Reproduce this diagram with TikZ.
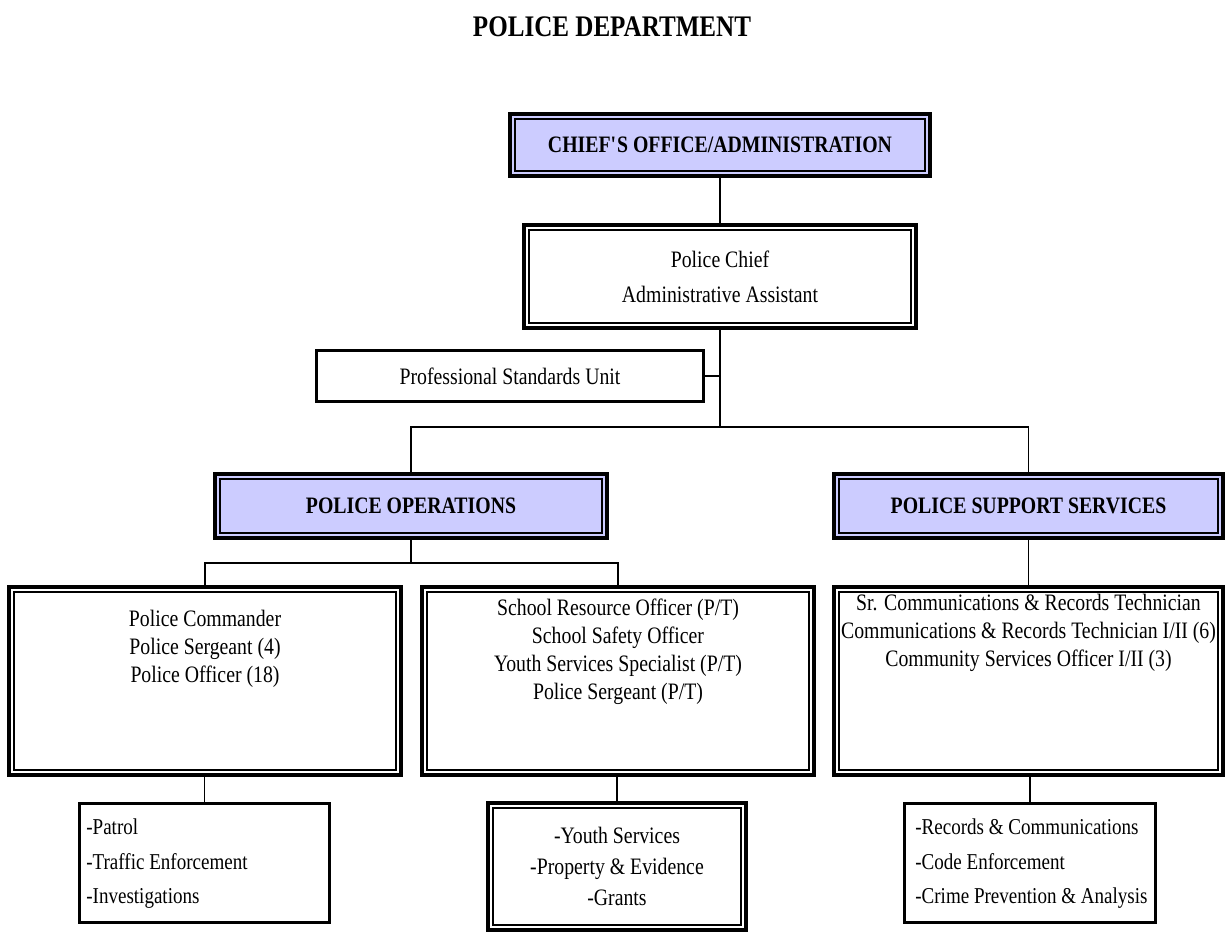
\documentclass[tikz,border=0pt]{standalone}
\usepackage{fontspec}
\setmainfont{Liberation Serif}[FakeStretch=0.84]
\usepackage{xcolor}
\usetikzlibrary{positioning}
\definecolor{lav}{RGB}{204,204,255}
\newlength\pu
\setlength\pu{0.02cm}

\begin{document}
\begin{tikzpicture}[x=0.02cm,y=-0.02cm,
      box/.style={draw,line width=4\pu,inner sep=0pt},
      dbl/.style={box,path picture={\draw[line width=1.1\pu]
          ([shift={(5\pu,-5\pu)}]path picture bounding box.north west) rectangle
          ([shift={(-5\pu,5\pu)}]path picture bounding box.south east);}},
      thin/.style={box,line width=3\pu},
      hd/.style={font=\fontsize{13.4}{16}\selectfont\bfseries},
      txt/.style={font=\fontsize{13.4}{#1}\selectfont,align=center},
      lst/.style={font=\fontsize{12.9}{19.6}\selectfont,align=left,anchor=west,inner sep=0pt},
      link/.style={line width=1.2\pu}]
    \useasboundingbox (0,0) rectangle (1225,934);
    \node[font=\fontsize{17}{20}\selectfont\bfseries] (title) at (612,27) {POLICE DEPARTMENT};
    \node[dbl,hd,fill=lav,minimum width=420\pu,minimum height=62\pu] (chief) at (720,145) {CHIEF\textquotesingle S OFFICE/ADMINISTRATION};
    \node[dbl,txt=19.9pt,minimum width=392\pu,minimum height=103\pu] (pchief) at (720,276.5) {Police Chief\\Administrative Assistant};
    \node[thin,txt=16pt,minimum width=387\pu,minimum height=51\pu] (psu) at (510,376) {Professional Standards Unit};
    \node[dbl,hd,fill=lav,minimum width=392\pu,minimum height=64\pu] (ops) at (411,506) {POLICE OPERATIONS};
    \node[dbl,hd,fill=lav,minimum width=389\pu,minimum height=64\pu] (supp) at (1028.5,506) {POLICE SUPPORT SERVICES};
    \node[dbl,minimum width=392\pu,minimum height=188\pu] (lmid) at (205,681) {};
    \node[dbl,minimum width=392\pu,minimum height=188\pu] (mmid) at (618,681) {};
    \node[dbl,minimum width=389\pu,minimum height=188\pu] (rmid) at (1028.5,681) {};
    \node[txt=15.9pt] (lmidt) at (205,649) {Police Commander\\Police Sergeant (4)\\Police Officer (18)};
    \node[txt=15.9pt] (mmidt) at (618,652) {School Resource Officer (P/T)\\School Safety Officer\\Youth Services Specialist (P/T)\\Police Sergeant (P/T)};
    \node[txt=15.9pt] (rmidt) at (1028.5,633) {Sr. Communications \& Records Technician\\Communications \& Records Technician I/II (6)\\Community Services Officer I/II (3)};
    \node[thin,minimum width=250\pu,minimum height=119\pu] (bl) at (204.5,863) {};
    \node[dbl,txt=17.6pt,minimum width=258\pu,minimum height=127\pu] (bm) at (617,866.5) {-Youth Services\\-Property \& Evidence\\-Grants};
    \node[thin,minimum width=251\pu,minimum height=119\pu] (br) at (1030,863) {};
    \node[lst] (blt) at (86,864) {-Patrol\\-Traffic Enforcement\\-Investigations};
    \node[lst] (brt) at (915,864) {-Records \& Communications\\-Code Enforcement\\-Crime Prevention \& Analysis};
    \coordinate (bus1) at (720,427);
    \coordinate (bus2) at (411,563);
    \draw[link] (chief) -- (pchief);
    \draw[link] (pchief.south) -- (bus1);
    \draw[link] (psu.east) -- (psu.east -| pchief.south);
    \draw[link] (ops.north) |- (bus1) -| (supp.north);
    \draw[link] (ops.south) -- (bus2);
    \draw[link] (lmid.north) |- (bus2) -| (mmid.north);
    \draw[link] (supp.south) -- (rmid.north);
    \draw[link] (bl.north) -- (bl.north |- lmid.south);
    \draw[link] (bm.north) -- (bm.north |- mmid.south);
    \draw[link] (br.north) -- (br.north |- rmid.south);
  \end{tikzpicture}
\end{document}
